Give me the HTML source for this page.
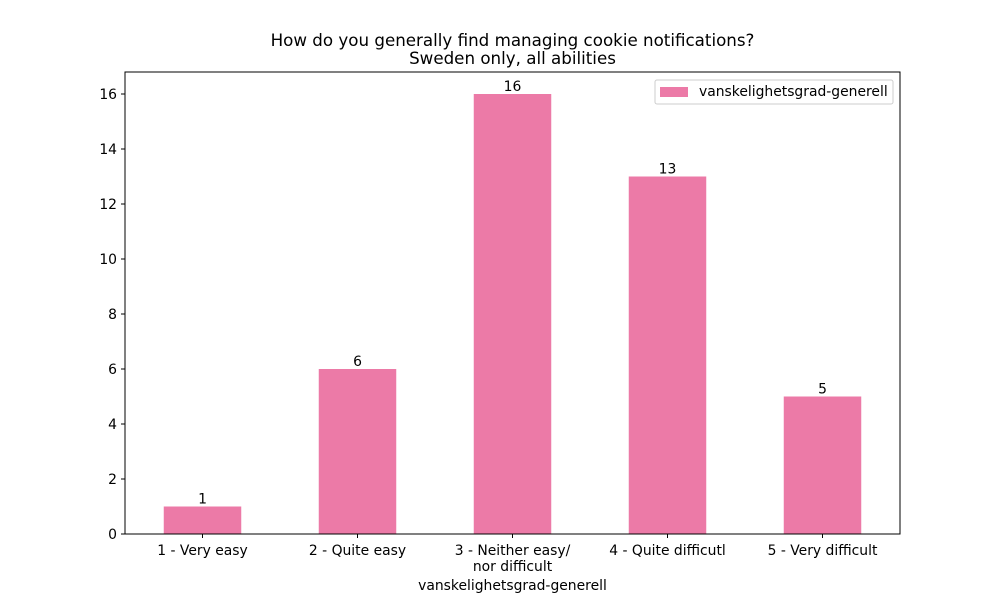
<!DOCTYPE html>
<html><head><meta charset="utf-8"><style>
body{margin:0;background:#fff;}
svg text{font-family:"DejaVu Sans","Liberation Sans",sans-serif;fill:#000;}
</style></head><body>
<svg id="chart" width="1000" height="600" xmlns="http://www.w3.org/2000/svg">
<text x="512.5" y="46" font-size="16.7" text-anchor="middle">How do you generally find managing cookie notifications?</text>
<text x="512.5" y="64" font-size="16.7" text-anchor="middle">Sweden only, all abilities</text>
<g id="bars"></g>
<g id="yticks"></g>
<g id="xticks"></g>
<rect x="125" y="72" width="775" height="462" fill="none" stroke="#000" stroke-width="1"/>
<text x="512.5" y="590" font-size="13.9" text-anchor="middle">vanskelighetsgrad-generell</text>
<g>
<rect x="655" y="80" width="238" height="24" fill="#fff" stroke="#ccc" rx="2"/>
<rect x="660" y="87" width="28" height="10" fill="#ec7aa7"/>
<text x="699" y="96" font-size="13.9">vanskelighetsgrad-generell</text>
</g>
</svg>
<script>
const categories = ["1 - Very easy","2 - Quite easy","3 - Neither easy/\nnor difficult","4 - Quite difficutl","5 - Very difficult"];
const values = [1,6,16,13,5];
const yTicks = [0,2,4,6,8,10,12,14,16];
const NS="http://www.w3.org/2000/svg";
const L=125,R=900,T=72,B=534,yMax=16.8;
const y=v=>B-(v/yMax)*(B-T);
const step=(R-L)/categories.length;
const x=i=>L+step*(i+0.5);
function mk(tag,attrs,parent){const e=document.createElementNS(NS,tag);for(const k in attrs)e.setAttribute(k,attrs[k]);document.getElementById(parent).appendChild(e);return e;}
values.forEach((v,i)=>{
  const w=step*0.5;
  const r=mk('rect',{x:x(i)-w/2,y:y(v),width:w,height:B-y(v),fill:'#ec7aa7'},'bars');
  
  
  const t=mk('text',{x:x(i),y:y(v)-3,'font-size':13.9,'text-anchor':'middle'},'bars');
  t.textContent=v;
  
  
});
yTicks.forEach(v=>{
  const l=mk('line',{x1:L-4,x2:L,y1:y(v),y2:y(v),stroke:'#000'},'yticks');
  
  
  const t=mk('text',{x:L-8,y:y(v)+5,'font-size':13.9,'text-anchor':'end'},'yticks');
  t.textContent=v;
  
  
});
categories.forEach((c,i)=>{
  const l=mk('line',{x1:x(i),x2:x(i),y1:B,y2:B+4,stroke:'#000'},'xticks');
  
  
  c.split('\n').forEach((line,j)=>{
    const t=mk('text',{x:x(i),y:555+j*16,'font-size':13.9,'text-anchor':'middle'},'xticks');
    t.textContent=line;
    
    
  });
});
</script>
</body></html>
